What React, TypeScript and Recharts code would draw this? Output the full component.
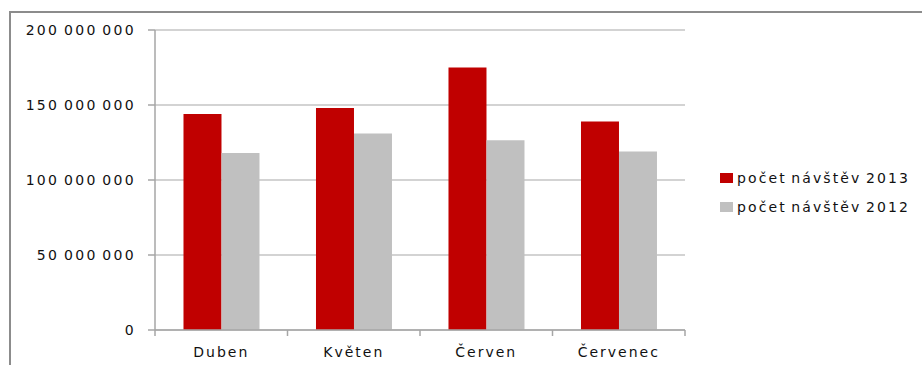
import { BarChart, Bar, XAxis, YAxis, CartesianGrid } from 'recharts';

const months = ['Duben', 'Květen', 'Červen', 'Červenec'];
const visits2013 = [144000000, 148000000, 175000000, 139000000];
const visits2012 = [118000000, 131000000, 126500000, 119000000];
const yTicks = [0, 50000000, 100000000, 150000000, 200000000];

const seriesNames = ['počet návštěv 2013', 'počet návštěv 2012'];
const seriesColors = ['#C00000', '#C0C0C0'];

const data = months.map((name, i) => ({
  name,
  v2013: visits2013[i],
  v2012: visits2012[i],
}));

const W = 922;
const H = 365;
const PLOT_LEFT = 155;
const PLOT_RIGHT = 685;
const BAND = (PLOT_RIGHT - PLOT_LEFT) / months.length;

const FONT = '"DejaVu Sans", sans-serif';
const TEXT = '#111';
const AXIS = '#a6a6a6';

// "150 000 000" style, space as thousands separator
const fmt = (v: number) => String(v).replace(/\B(?=(\d{3})+(?!\d))/g, ' ');

// category label plus tick marks on the band edges
function MonthTick(props: any) {
  const { x, y, payload, index } = props;
  const axisY = y - 8;
  return (
    <g>
      {index === 0 && (
        <line x1={x - BAND / 2} x2={x - BAND / 2} y1={axisY} y2={axisY + 6} stroke={AXIS} strokeWidth={1.5} />
      )}
      <line x1={x + BAND / 2} x2={x + BAND / 2} y1={axisY} y2={axisY + 6} stroke={AXIS} strokeWidth={1.5} />
      <text
        x={x}
        y={axisY + 27}
        textAnchor="middle"
        fill={TEXT}
        fontSize={14}
        fontFamily={FONT}
        letterSpacing={2}
      >
        {payload.value}
      </text>
    </g>
  );
}

function LegendBox() {
  return (
    <div
      style={{
        position: 'absolute',
        left: 720,
        top: 163,
        fontFamily: FONT,
        fontSize: 14,
        letterSpacing: 2.1,
        wordSpacing: -2,
        color: TEXT,
      }}
    >
      {seriesNames.map((n, i) => (
        <div key={n} style={{ display: 'flex', alignItems: 'center', height: 29, whiteSpace: 'nowrap' }}>
          <span
            style={{ display: 'inline-block', width: 13, height: 10, background: seriesColors[i], marginRight: 4 }}
          />
          <span>{n}</span>
        </div>
      ))}
    </div>
  );
}

export default function App() {
  return (
    <div style={{ position: 'fixed', left: 0, top: 0, width: W, height: H, overflow: 'hidden', background: '#fff' }}>
      <div
        style={{
          position: 'absolute',
          left: 9,
          top: 11,
          width: 1000,
          height: 1000,
          border: '2px solid #8c8c8c',
        }}
      />
      <BarChart
        width={W}
        height={H}
        data={data}
        margin={{ top: 30, right: W - PLOT_RIGHT, left: 0, bottom: 0 }}
        barCategoryGap="21.5%"
        barGap={0}
        style={{ position: 'absolute', left: 0, top: 0 }}
      >
        <CartesianGrid vertical={false} stroke="#c4c4c4" strokeWidth={1.5} />
        <XAxis
          dataKey="name"
          height={35}
          axisLine={{ stroke: AXIS, strokeWidth: 1.5 }}
          tickLine={false}
          tickSize={6}
          tickMargin={2}
          interval={0}
          tick={<MonthTick />}
        />
        <YAxis
          width={PLOT_LEFT}
          domain={[0, 200000000]}
          ticks={yTicks}
          tickFormatter={fmt}
          axisLine={{ stroke: AXIS, strokeWidth: 1.5 }}
          tickLine={{ stroke: AXIS, strokeWidth: 1.5 }}
          tickSize={7}
          tickMargin={12}
          tick={{ fill: TEXT, fontSize: 14, fontFamily: FONT, letterSpacing: 2.3, wordSpacing: -2 }}
        />
        <Bar dataKey="v2013" name={seriesNames[0]} fill={seriesColors[0]} isAnimationActive={false} />
        <Bar dataKey="v2012" name={seriesNames[1]} fill={seriesColors[1]} isAnimationActive={false} />
      </BarChart>
      <LegendBox />
    </div>
  );
}
